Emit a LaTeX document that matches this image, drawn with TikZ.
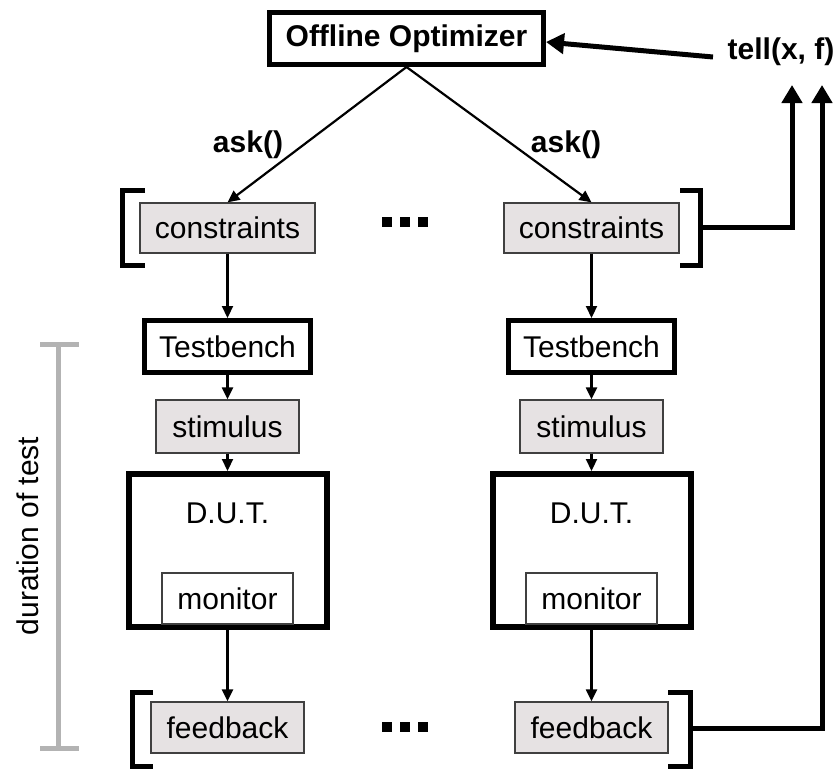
\documentclass[tikz,border=0pt]{standalone}
\usepackage{fontspec}
\setmainfont{Liberation Sans}
\usetikzlibrary{arrows.meta}
\definecolor{boxgray}{HTML}{E6E2E3}
\definecolor{bargray}{HTML}{B3B3B3}
\begin{document}
\begin{tikzpicture}[x=1pt,y=-1pt,
  txt/.style={font=\fontsize{30}{35}\selectfont},
  btxt/.style={font=\fontsize{30}{35}\selectfont\bfseries},
  every node/.style={inner sep=0pt, txt},
  heavybox/.style={draw, line width=5pt, fill=white},
  dutbox/.style={draw, line width=6pt, fill=white},
  graybox/.style={draw=black!75, line width=1.3pt, fill=boxgray},
  monbox/.style={draw=black!75, line width=1.3pt, fill=white},
  flow/.style={line width=2.2pt, -{Triangle[length=12pt,width=11pt]}},
  bigflow/.style={line width=5pt, line join=miter, -{Triangle[length=18pt,width=20pt]}},
  brk/.style={line width=5pt, line join=miter},
  span/.style={draw=bargray, line width=5pt}
]
\useasboundingbox (0,0) rectangle (837,768);

% optimizer and its labels
\node[heavybox, btxt, minimum width=274pt, minimum height=52pt] (opt) at (406.5,38.5) {Offline Optimizer};
\node[btxt] (tell) at (781,52) {tell(x, f)};
\node[btxt] (askL) at (248,145) {ask()};
\node[btxt] (askR) at (566,145) {ask()};

% two test columns
\foreach \c/\x in {L/227.5, R/591.5} {
  \node[graybox, minimum width=175pt, minimum height=50pt] (c\c) at (\x,228) {constraints};
  \node[heavybox, minimum width=166pt, minimum height=52pt] (tb\c) at (\x,346.5) {Testbench};
  \node[graybox, minimum width=143pt, minimum height=53pt] (st\c) at (\x,426.5) {stimulus};
  \node[dutbox, minimum width=198pt, minimum height=153pt] (dut\c) at (\x,550.5) {};
  \node (dutt\c) at (\x,513) {D.U.T.};
  \node[monbox, minimum width=131pt, minimum height=51pt] (mon\c) at (\x,598.5) {monitor};
  \node[graybox, minimum width=153pt, minimum height=51pt] (fb\c) at (\x,727.5) {feedback};
  \draw[flow] (c\c.south) -- (tb\c.north);
  \draw[flow] (tb\c.south) -- (st\c.north);
  \draw[flow] (st\c.south) -- (dut\c.north);
  \draw[flow] (dut\c.south) -- (fb\c.north);
}

% ask() connectors
\draw[flow] (opt.south) -- (cL.north);
\draw[flow] (opt.south) -- (cR.north);

% ellipses between the columns
\foreach \y in {217,722} {
  \foreach \x in {382,400,418} {
    \fill (\x,\y) rectangle ++(10,10);
  }
}

% brackets round the constraints row
\draw[brk] (145,190) -- (122,190) -- (122,265) -- (145,265);
\draw[brk] (680,190) -- (700,190) -- (700,265) -- (680,265);
% brackets round the feedback row
\draw[brk] (153,692) -- (132,692) -- (132,766) -- (153,766);
\draw[brk] (668,692) -- (690,692) -- (690,766) -- (668,766);

% tell(x, f) feedback paths
\coordinate (brT) at (700,227);
\coordinate (brB) at (690,728);
\coordinate (tl) at (713,57);
\draw[bigflow] (brT) -- (792,227) -- (792,85);
\draw[bigflow] (brB) -- (822,728) -- (822,85);
\draw[bigflow] (tl) -- ([yshift=-3.5pt]opt.east);

% duration of test span
\draw[span] (58,344) -- (58,748);
\draw[span] (40,344) -- (79,344);
\draw[span] (40,748) -- (79,748);
\node[rotate=90] (dur) at (28,536) {duration of test};
\end{tikzpicture}
\end{document}
